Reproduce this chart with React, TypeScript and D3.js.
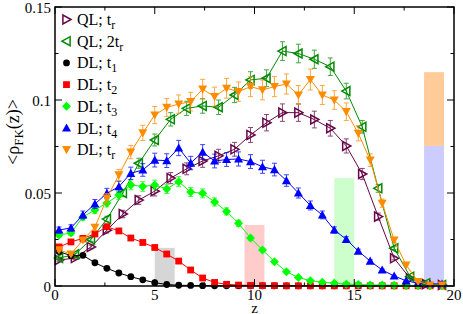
import * as d3 from "d3";

// z positions of the two sampling grids
const zDL = [0.2, 0.8, 1.4, 2.0, 2.6, 3.2, 3.8, 4.4, 5.0, 5.6, 6.2, 6.8, 7.4, 8.0, 8.6, 9.2, 9.8,
  10.4, 11.0, 11.6, 12.2, 12.8, 13.4, 14.0, 14.6, 15.2, 15.8, 16.4, 17.0, 17.6, 18.2, 18.8, 19.4];
const zQL = [0.2, 1.0, 1.8, 2.6, 3.4, 4.2, 5.0, 5.8, 6.6, 7.4, 8.2, 9.0, 9.8, 10.6, 11.4, 12.2,
  13.0, 13.8, 14.6, 15.4, 16.2, 17.0, 17.8, 18.6, 19.4];

// QL; t_r
const qlTr = [0.014, 0.015, 0.021, 0.03, 0.0387, 0.0462, 0.051, 0.058, 0.063, 0.0672, 0.07, 0.0735,
  0.0812, 0.0878, 0.0932, 0.0932, 0.0895, 0.0848, 0.0753, 0.0602, 0.0373, 0.0149, 0.0041, 0.001, 0.0005];
const qlTrErr = [0.0007, 0.0008, 0.001, 0.0015, 0.002, 0.0023, 0.0026, 0.003, 0.0032, 0.0034, 0.0035,
  0.0037, 0.004, 0.0044, 0.0047, 0.0047, 0.0045, 0.0042, 0.0038, 0.003, 0.0019, 0.0008, 0.0002, 0.0001, 0];

// QL; 2t_r
const ql2Tr = [0.015, 0.017, 0.025, 0.036, 0.05, 0.066, 0.0785, 0.0896, 0.0955, 0.0968, 0.0961, 0.1027,
  0.1108, 0.1117, 0.1263, 0.125, 0.1219, 0.1179, 0.1048, 0.0856, 0.0525, 0.0203, 0.005, 0.0015, 0.0005];
const ql2TrErr = [0.0006, 0.0007, 0.001, 0.0015, 0.002, 0.0027, 0.0032, 0.0036, 0.0038, 0.0039, 0.0039,
  0.0041, 0.0044, 0.0045, 0.005, 0.005, 0.0049, 0.0047, 0.0042, 0.0034, 0.0021, 0.0008, 0.0002, 0.0001, 0];

// DL; t_1 .. t_4, t_r
const dlT1 = [0.0185, 0.0163, 0.0165, 0.0125, 0.0095, 0.007, 0.005, 0.0033, 0.0018, 0.0008, 0.0004,
  0.0003, 0.0002, 0.0001, 0.0001, 0.0001, 0.0001, 0.0001, 0.0001, 0.0001, 0.0001, 0.0001, 0.0001,
  0.0001, 0.0001, 0.0001, 0.0001, 0.0001, 0.0001, 0.0001, 0.0001, 0.0001, 0.0001];
const dlT2 = [0.021, 0.0237, 0.0256, 0.028, 0.0319, 0.0296, 0.0258, 0.0234, 0.0207, 0.0172, 0.0134,
  0.0086, 0.0043, 0.0019, 0.0009, 0.0005, 0.0003, 0.0002, 0.0002, 0.0001, 0.0001, 0.0001, 0.0001,
  0.0001, 0.0001, 0.0001, 0.0001, 0.0001, 0.0001, 0.0001, 0.0001, 0.0001, 0.0001];
const dlT2Err = [0.0006, 0.0007, 0.0008, 0.0008, 0.001, 0.0009, 0.0008, 0.0007, 0.0006, 0.0005, 0.0004,
  0.0003, 0.0001, 0.0001, 0, 0, 0, 0, 0, 0, 0, 0, 0, 0, 0, 0, 0, 0, 0, 0, 0, 0, 0];
const dlT3 = [0.0274, 0.0285, 0.0371, 0.0409, 0.0446, 0.0489, 0.0543, 0.0535, 0.0543, 0.0522, 0.0561,
  0.0505, 0.0498, 0.0452, 0.0401, 0.0337, 0.0258, 0.0194, 0.0131, 0.0077, 0.0046, 0.0028, 0.002,
  0.0015, 0.001, 0.0008, 0.0006, 0.0005, 0.0004, 0.0003, 0.0003, 0.0002, 0.0002];
const dlT3Err = [0.0012, 0.0013, 0.0017, 0.0019, 0.0021, 0.0023, 0.0026, 0.0026, 0.0026, 0.0025, 0.0027,
  0.0024, 0.0024, 0.0022, 0.0019, 0.0016, 0.0012, 0.0009, 0.0006, 0.0004, 0.0002, 0.0001, 0.0001,
  0, 0, 0, 0, 0, 0, 0, 0, 0, 0];
const dlT4 = [0.0301, 0.0312, 0.0382, 0.0441, 0.0498, 0.0534, 0.0606, 0.0624, 0.0677, 0.0674, 0.0742,
  0.0661, 0.072, 0.0672, 0.068, 0.0683, 0.0669, 0.0641, 0.0626, 0.0567, 0.05, 0.0433, 0.0382, 0.0301,
  0.0251, 0.0188, 0.0134, 0.0086, 0.0054, 0.0028, 0.0015, 0.0011, 0.0011];
const dlT4Err = [0.0016, 0.0017, 0.0021, 0.0024, 0.0027, 0.0029, 0.0033, 0.0034, 0.0037, 0.0037, 0.0041,
  0.0036, 0.004, 0.0037, 0.0037, 0.0038, 0.0037, 0.0035, 0.0034, 0.0031, 0.0027, 0.0024, 0.0021,
  0.0017, 0.0014, 0.001, 0.0007, 0.0005, 0.0003, 0.0002, 0.0001, 0.0001, 0.0001];
const dlTr = [0.0194, 0.0172, 0.0247, 0.0315, 0.0473, 0.0597, 0.072, 0.0823, 0.0919, 0.096, 0.0978,
  0.0991, 0.1058, 0.1018, 0.1063, 0.1045, 0.1072, 0.1054, 0.1072, 0.1086, 0.1027, 0.111, 0.1027, 0.1,
  0.0937, 0.0821, 0.0677, 0.0445, 0.0247, 0.0113, 0.0023, 0.0005, 0.0005];
const dlTrErr = [0.001, 0.0009, 0.0013, 0.0016, 0.0024, 0.003, 0.0036, 0.0041, 0.0046, 0.0048, 0.0049,
  0.005, 0.0053, 0.0051, 0.0053, 0.0052, 0.0054, 0.0053, 0.0054, 0.0054, 0.0051, 0.0056, 0.0051,
  0.005, 0.0047, 0.0041, 0.0034, 0.0022, 0.0012, 0.0006, 0.0001, 0, 0];

// shaded bars
const bands = [
  { z0: 5.0, z1: 6.0, lo: 0, hi: 0.0205, fill: "#d6d6d6" },
  { z0: 9.5, z1: 10.5, lo: 0, hi: 0.0328, fill: "#ffcccc" },
  { z0: 14.0, z1: 15.0, lo: 0, hi: 0.058, fill: "#ccffcc" },
  { z0: 18.5, z1: 19.5, lo: 0, hi: 0.0753, fill: "#ccccff" },
  { z0: 18.5, z1: 19.5, lo: 0.0753, hi: 0.115, fill: "#ffcc99" },
];

const xTicks = [0, 5, 10, 15, 20];
const xMinor = [2.5, 7.5, 12.5, 17.5];
const yTicks = [0, 0.05, 0.1, 0.15];
const yMinor = [0.025, 0.075, 0.125];

const series = [
  { pre: "QL; t", sub: "r", z: zQL, v: qlTr, err: qlTrErr, color: "#670748", sym: "right" },
  { pre: "QL; 2t", sub: "r", z: zQL, v: ql2Tr, err: ql2TrErr, color: "#008b00", sym: "left" },
  { pre: "DL; t", sub: "1", z: zDL, v: dlT1, err: null, color: "#000000", sym: "circle" },
  { pre: "DL; t", sub: "2", z: zDL, v: dlT2, err: dlT2Err, color: "#ff0000", sym: "square" },
  { pre: "DL; t", sub: "3", z: zDL, v: dlT3, err: dlT3Err, color: "#00ff00", sym: "diamond" },
  { pre: "DL; t", sub: "4", z: zDL, v: dlT4, err: dlT4Err, color: "#0000ff", sym: "up" },
  { pre: "DL; t", sub: "r", z: zDL, v: dlTr, err: dlTrErr, color: "#ff8c00", sym: "down" },
];

const W = 463, H = 314;
const x = d3.scaleLinear().domain([0, 20]).range([55, 454]);
const y = d3.scaleLinear().domain([0, 0.15]).range([286, 7]);
const serif = "Liberation Serif, Times New Roman, Times, Nimbus Roman, DejaVu Serif, serif";

const Marker = ({ sym, cx, cy, color }: any) => {
  const s = 4.5;
  if (sym === "circle") return <circle cx={cx} cy={cy} r={3.4} fill={color} />;
  if (sym === "square") return <rect x={cx - 3.4} y={cy - 3.4} width={6.8} height={6.8} fill={color} />;
  if (sym === "diamond")
    return <path d={`M${cx},${cy - s}L${cx + s},${cy}L${cx},${cy + s}L${cx - s},${cy}Z`} fill={color} />;
  if (sym === "up")
    return <path d={`M${cx},${cy - s}L${cx + s},${cy + s * 0.8}L${cx - s},${cy + s * 0.8}Z`} fill={color} />;
  if (sym === "down")
    return <path d={`M${cx},${cy + s}L${cx + s},${cy - s * 0.8}L${cx - s},${cy - s * 0.8}Z`} fill={color} />;
  if (sym === "right")
    return <path d={`M${cx + s},${cy}L${cx - s * 0.8},${cy - s}L${cx - s * 0.8},${cy + s}Z`}
      fill="none" stroke={color} strokeWidth={1.5} />;
  return <path d={`M${cx - s},${cy}L${cx + s * 0.8},${cy - s}L${cx + s * 0.8},${cy + s}Z`}
    fill="none" stroke={color} strokeWidth={1.5} />;
};

export default function App() {
  const line = d3.line<number[]>().x(d => x(d[0])).y(d => y(d[1]));

  return (
    <svg width={W} height={H} style={{ position: "absolute", left: 0, top: 0, background: "#fff" }}>
      {bands.map((b, i) => (
        <rect key={i} x={x(b.z0)} y={y(b.hi)} width={x(b.z1) - x(b.z0)} height={y(b.lo) - y(b.hi)} fill={b.fill} />
      ))}

      {series.map((s, si) => {
        const pts = s.z.map((z, i) => [z, s.v[i]]);
        return (
          <g key={si}>
            <path d={line(pts) || ""} fill="none" stroke={s.color} strokeWidth={1} />
            {s.err && s.z.map((z, i) => {
              const e = s.err![i];
              if (!e) return null;
              const cx = x(z), y0 = y(s.v[i] - e), y1 = y(s.v[i] + e);
              return (
                <g key={i} stroke={s.color} strokeWidth={1} opacity={0.75}>
                  <line x1={cx} x2={cx} y1={y0} y2={y1} />
                  <line x1={cx - 2.5} x2={cx + 2.5} y1={y0} y2={y0} />
                  <line x1={cx - 2.5} x2={cx + 2.5} y1={y1} y2={y1} />
                </g>
              );
            })}
            {s.z.map((z, i) => (
              <Marker key={i} sym={s.sym} cx={x(z)} cy={y(s.v[i])} color={s.color} />
            ))}
          </g>
        );
      })}

      {/* frame and ticks */}
      <rect x={55} y={7} width={399} height={279} fill="none" stroke="#000" strokeWidth={1.5} />
      <g stroke="#000" strokeWidth={1}>
        {xTicks.map(t => (
          <g key={t}>
            <line x1={x(t)} x2={x(t)} y1={286} y2={279} />
            <line x1={x(t)} x2={x(t)} y1={7} y2={14} />
          </g>
        ))}
        {xMinor.map(t => (
          <g key={t}>
            <line x1={x(t)} x2={x(t)} y1={286} y2={282.5} />
            <line x1={x(t)} x2={x(t)} y1={7} y2={10.5} />
          </g>
        ))}
        {yTicks.map(t => (
          <g key={t}>
            <line x1={55} x2={62} y1={y(t)} y2={y(t)} />
            <line x1={454} x2={447} y1={y(t)} y2={y(t)} />
          </g>
        ))}
        {yMinor.map(t => (
          <g key={t}>
            <line x1={55} x2={58.5} y1={y(t)} y2={y(t)} />
            <line x1={454} x2={450.5} y1={y(t)} y2={y(t)} />
          </g>
        ))}
      </g>

      <g fill="#000">
        {xTicks.map(t => (
          <text key={t} x={x(t)} y={299.5} textAnchor="middle" fontFamily={serif} fontSize={15}>{t}</text>
        ))}
        {yTicks.map(t => (
          <text key={t} x={51} y={y(t) + 5.5} textAnchor="end" fontFamily={serif} fontSize={15}>{String(t)}</text>
        ))}
        <text x={x(10)} y={313} textAnchor="middle" fontFamily={serif} fontSize={15}>z</text>
        <text transform={`translate(19,132) rotate(-90)`} textAnchor="middle" fontFamily={serif} fontSize={18}>
          {"<ρ"}<tspan fontSize={13} dy={4}>FK</tspan><tspan dy={-4}>{"(z)>"}</tspan>
        </text>
      </g>

      {/* legend */}
      {series.map((s, i) => {
        const ly = 19.5 + i * 21.7;
        return (
          <g key={i}>
            <Marker sym={s.sym} cx={66.5} cy={ly} color={s.color} />
            <text x={77} y={ly + 5.5} fontFamily={serif} fontSize={16}>
              {s.pre}<tspan fontSize={12} dy={4}>{s.sub}</tspan>
            </text>
          </g>
        );
      })}
    </svg>
  );
}
